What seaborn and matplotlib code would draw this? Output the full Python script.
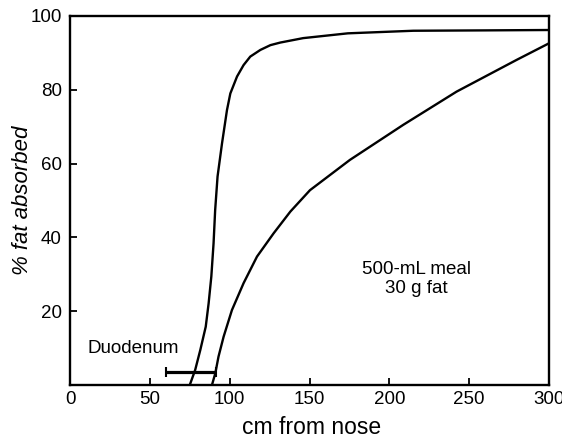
import numpy as np
import pandas as pd
import seaborn as sns
import matplotlib.pyplot as plt

# steep curve (left) and slow curve (right)
steep_x = [75, 78.4, 81.6, 85, 86.8, 88.5, 89.9, 90.9, 92.4, 95.2, 98.3, 100.4, 104.6,
           108.7, 112.9, 119.2, 125.5, 131.7, 146, 174, 215, 260, 300]
steep_y = [0, 4.1, 9.5, 15.8, 22.1, 29.4, 38.4, 47.4, 56.5, 65.5, 74.5, 79.0, 83.6,
           86.7, 89.0, 90.8, 92.1, 92.8, 94.0, 95.3, 96.0, 96.1, 96.2]

slow_x = [88.9, 91, 93, 96.2, 101.4, 108.7, 117.1, 127.5, 138, 150.3, 175.3, 208.7, 242.1, 279.7, 300]
slow_y = [0, 3.2, 7.7, 13.1, 20.3, 27.6, 34.8, 41.1, 47, 52.8, 61.0, 70.5, 79.5, 88.1, 92.6]

duodenum_x = [60, 91.5]
duodenum_y = 3.6

x_ticks = [0, 50, 100, 150, 200, 250, 300]
y_ticks = [20, 40, 60, 80, 100]

df = pd.concat([
    pd.DataFrame({'cm': steep_x, 'pct': steep_y, 'curve': 'steep'}),
    pd.DataFrame({'cm': slow_x, 'pct': slow_y, 'curve': 'slow'}),
])

sns.set_style('ticks')
plt.rcParams['font.family'] = ['Liberation Sans', 'DejaVu Sans']
plt.rcParams['text.color'] = 'black'
plt.rcParams['axes.labelcolor'] = 'black'

fig = plt.figure(figsize=(5.62, 4.38), dpi=100)
ax = fig.add_axes([0.1246, 0.121, 0.8523, 0.8425])

sns.lineplot(data=df, x='cm', y='pct', units='curve', estimator=None, sort=False,
             color='black', linewidth=1.7, ax=ax)

# duodenum bar
mid = (duodenum_x[0] + duodenum_x[1]) / 2
half = (duodenum_x[1] - duodenum_x[0]) / 2
ax.errorbar(mid, duodenum_y, xerr=half, fmt='none', ecolor='black',
            elinewidth=2.3, capsize=3.5, capthick=1.5)

ax.text(39.5, 10, 'Duodenum', ha='center', va='center', fontsize=13.5)
ax.text(217, 28.7, '500-mL meal\n30 g fat', ha='center', va='center',
        fontsize=13.5, linespacing=1.15)

ax.set_xlim(0, 300)
ax.set_ylim(0, 100)
ax.set_xticks(x_ticks)
ax.set_yticks(y_ticks)
ax.tick_params(direction='in', length=5, width=1.3, labelsize=13.5, colors='black')
ax.tick_params(axis='x', pad=4.5)
ax.tick_params(axis='y', pad=6)
for s in ax.spines.values():
    s.set_color('black')
    s.set_linewidth(1.7)

ax.set_xlabel('cm from nose', fontsize=16.5)
ax.set_ylabel('% fat absorbed', fontsize=16, style='italic')
ax.xaxis.set_label_coords(0.504, -0.085)
ax.yaxis.set_label_coords(-0.077, 0.501)

fig.savefig('out.png', dpi=100)
